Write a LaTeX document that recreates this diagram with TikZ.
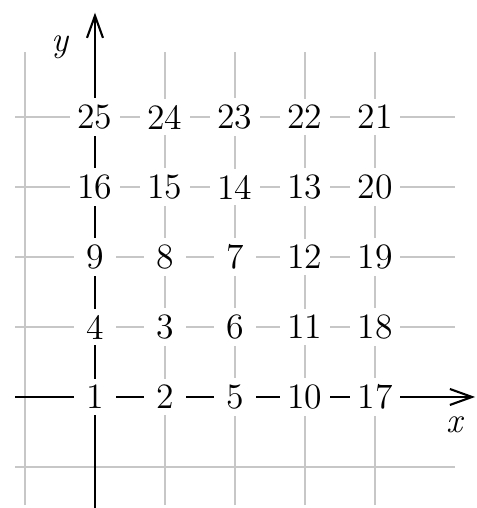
\documentclass[tikz,border=0pt]{standalone}
\usetikzlibrary{arrows.meta}
\begin{document}
\begin{tikzpicture}[x=1cm,y=1cm,
  gridline/.style={draw=black!22,line width=0.45pt},
  axisline/.style={draw=black,line width=0.85pt,-{Straight Barb[length=9pt,width=6.5pt,line width=0.85pt]}},
  num/.style={fill=white,inner xsep=3pt,inner ysep=2.6pt,minimum width=17pt,font=\fontsize{14.5}{17}\selectfont},
  axlabel/.style={font=\fontsize{14.5}{17}\selectfont\itshape}]
\useasboundingbox (-1.357,-1.586) rectangle (5.457,5.671);
% grid
\foreach \i in {-1,...,4} {
  \draw[gridline] (\i,-1.55) -- (\i,4.93);
  \draw[gridline] (-1.14,\i) -- (5.14,\i);
}
% axes
\coordinate (xs) at (-1.14,0);
\coordinate (xe) at (5.43,0);
\coordinate (ys) at (0,-1.586);
\coordinate (ye) at (0,5.49);
\draw[axisline] (xs) -- (xe);
\draw[axisline] (ys) -- (ye);
\node[axlabel] (lx) at (5.14,-0.4) {x};
\node[axlabel] (ly) at (-0.5,4.99) {y};
% numbers
\node[num] (n1) at (0,0) {1};
\node[num] (n2) at (1,0) {2};
\node[num] (n5) at (2,0) {5};
\node[num] (n10) at (3,0) {10};
\node[num] (n17) at (4,0) {17};
\node[num] (n4) at (0,1) {4};
\node[num] (n3) at (1,1) {3};
\node[num] (n6) at (2,1) {6};
\node[num] (n11) at (3,1) {11};
\node[num] (n18) at (4,1) {18};
\node[num] (n9) at (0,2) {9};
\node[num] (n8) at (1,2) {8};
\node[num] (n7) at (2,2) {7};
\node[num] (n12) at (3,2) {12};
\node[num] (n19) at (4,2) {19};
\node[num] (n16) at (0,3) {16};
\node[num] (n15) at (1,3) {15};
\node[num] (n14) at (2,3) {14};
\node[num] (n13) at (3,3) {13};
\node[num] (n20) at (4,3) {20};
\node[num] (n25) at (0,4) {25};
\node[num] (n24) at (1,4) {24};
\node[num] (n23) at (2,4) {23};
\node[num] (n22) at (3,4) {22};
\node[num] (n21) at (4,4) {21};
\end{tikzpicture}
\end{document}
